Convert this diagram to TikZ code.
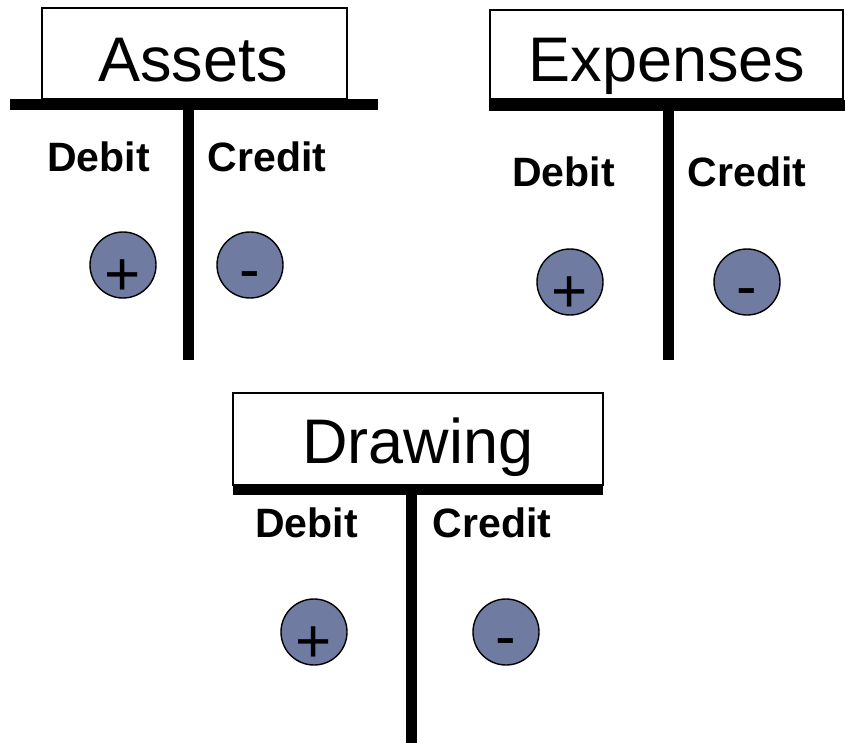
\documentclass[tikz,border=0pt]{standalone}
\usepackage{fontspec}
\setmainfont{Liberation Sans}
\definecolor{signfill}{RGB}{112,123,161}
\tikzset{
  titlebox/.style={draw=black, line width=1.1pt, fill=white},
  titletext/.style={anchor=base, inner sep=0pt, font=\fontsize{63}{70}\selectfont},
  sidetext/.style={anchor=base, inner sep=0pt, font=\fontsize{41}{46}\selectfont\bfseries},
  bar/.style={line width=11pt, black},
  signcircle/.style={circle, draw=black, line width=1.4pt, fill=signfill, minimum size=66pt, inner sep=0pt},
  signtext/.style={anchor=base, inner sep=0pt, font=\fontsize{62}{68}\selectfont}
}
\begin{document}
\begin{tikzpicture}[x=1pt,y=-1pt]
\useasboundingbox (0,0) rectangle (845,743);

% ---------- Assets ----------
\draw[titlebox] (42,8) rectangle (347,99);
\node[titletext] (assetsT) at (193,82) {Assets};
\coordinate (aL) at (10,104.5);
\coordinate (aR) at (378,104.5);
\coordinate (aTop) at (188.5,104.5);
\coordinate (aBot) at (188.5,360);
\draw[bar] (aL) -- (aR);
\draw[bar] (aTop) -- (aBot);
\node[sidetext] (aDeb) at (98.5,172) {Debit};
\node[sidetext] (aCre) at (267,172) {Credit};
\node[signcircle] (aPlus) at (123,265) {};
\node[signtext] (aPlusT) at (123,295) {+};
\node[signcircle] (aMinus) at (250,265) {};
\node[signtext] (aMinusT) at (250,290.5) {-};

% ---------- Expenses ----------
\draw[titlebox] (490,10) rectangle (843,99);
\node[titletext] (expT) at (667,82) {Expenses};
\coordinate (eL) at (489,105.5);
\coordinate (eR) at (845,105.5);
\coordinate (eTop) at (668.5,105.5);
\coordinate (eBot) at (668.5,360);
\draw[bar] (eL) -- (eR);
\draw[bar] (eTop) -- (eBot);
\node[sidetext] (eDeb) at (563.5,187) {Debit};
\node[sidetext] (eCre) at (747,187) {Credit};
\node[signcircle] (ePlus) at (570,282) {};
\node[signtext] (ePlusT) at (570,312) {+};
\node[signcircle] (eMinus) at (747,282) {};
\node[signtext] (eMinusT) at (747,307.5) {-};

% ---------- Drawing ----------
\draw[titlebox] (233,393) rectangle (603,485);
\node[titletext] (drwT) at (418,463) {Drawing};
\coordinate (dL) at (233,489.5);
\coordinate (dR) at (603,489.5);
\coordinate (dTop) at (411.5,489.5);
\coordinate (dBot) at (411.5,743);
\draw[bar] (dL) -- (dR);
\draw[bar] (dTop) -- (dBot);
\node[sidetext] (dDeb) at (306.5,537) {Debit};
\node[sidetext] (dCre) at (492,537) {Credit};
\node[signcircle] (dPlus) at (314,632) {};
\node[signtext] (dPlusT) at (314,662) {+};
\node[signcircle] (dMinus) at (506,632) {};
\node[signtext] (dMinusT) at (506,657.5) {-};
\end{tikzpicture}
\end{document}
